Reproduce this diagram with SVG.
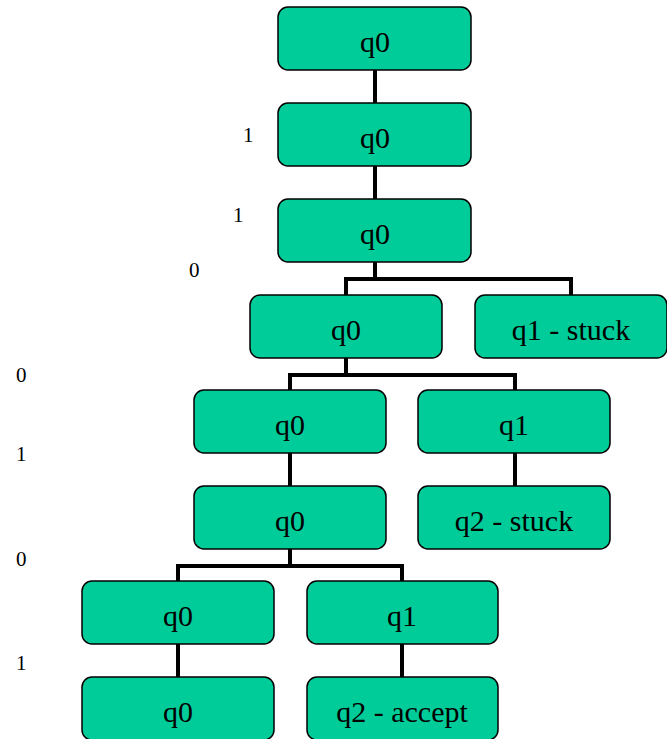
<svg xmlns="http://www.w3.org/2000/svg" width="667" height="739" viewBox="0 0 667 739">
  <style>
    .node rect { fill: #00CC99; stroke: #000; stroke-width: 1.5; }
    .node text { font-size: 30px; fill: #000; text-anchor: middle; }
    .edge { fill: none; stroke: #000; stroke-width: 4; }
    .lbl { font-size: 21px; fill: #000; }
  </style>
  <rect width="667" height="739" fill="#fff"/>

  <!-- connectors -->
  <g id="connectors">
    <path class="edge" d="M375 70 V103"/>
    <path class="edge" d="M375 166 V199"/>
    <path class="edge" d="M375 262 V279 M346 295 V279 H571 V295"/>
    <path class="edge" d="M346 358 V375 M290 390 V375 H515 V390"/>
    <path class="edge" d="M290 453 V486"/>
    <path class="edge" d="M515 453 V486"/>
    <path class="edge" d="M290 549 V566 M178 581 V566 H402 V581"/>
    <path class="edge" d="M178 644 V677"/>
    <path class="edge" d="M402 644 V677"/>
  </g>

  <g font-family="Liberation Serif, Times New Roman, serif">
  <!-- input symbols -->
  <g id="labels">
    <text class="lbl" x="243" y="142">1</text>
    <text class="lbl" x="233" y="222">1</text>
    <text class="lbl" x="189" y="277">0</text>
    <text class="lbl" x="16" y="382">0</text>
    <text class="lbl" x="16" y="461">1</text>
    <text class="lbl" x="16" y="566">0</text>
    <text class="lbl" x="16" y="670">1</text>
  </g>

  <!-- states -->
  <g id="n1" class="node"><rect x="278" y="7" width="193" height="63" rx="10"/><text x="375" y="52">q0</text></g>
  <g id="n2" class="node"><rect x="278" y="103" width="193" height="63" rx="10"/><text x="375" y="148">q0</text></g>
  <g id="n3" class="node"><rect x="278" y="199" width="193" height="63" rx="10"/><text x="375" y="244">q0</text></g>
  <g id="n4" class="node"><rect x="250" y="295" width="192" height="63" rx="10"/><text x="346" y="340">q0</text></g>
  <g id="n5" class="node"><rect x="475" y="295" width="192" height="63" rx="10"/><text x="571" y="340">q1 - stuck</text></g>
  <g id="n6" class="node"><rect x="194" y="390" width="192" height="63" rx="10"/><text x="290" y="435">q0</text></g>
  <g id="n7" class="node"><rect x="418" y="390" width="192" height="63" rx="10"/><text x="514" y="435">q1</text></g>
  <g id="n8" class="node"><rect x="194" y="486" width="192" height="63" rx="10"/><text x="290" y="531">q0</text></g>
  <g id="n9" class="node"><rect x="418" y="486" width="192" height="63" rx="10"/><text x="514" y="531">q2 - stuck</text></g>
  <g id="n10" class="node"><rect x="82" y="581" width="192" height="63" rx="10"/><text x="178" y="626">q0</text></g>
  <g id="n11" class="node"><rect x="307" y="581" width="191" height="63" rx="10"/><text x="402" y="626">q1</text></g>
  <g id="n12" class="node"><rect x="82" y="677" width="192" height="63" rx="10"/><text x="178" y="722">q0</text></g>
  <g id="n13" class="node"><rect x="307" y="677" width="191" height="63" rx="10"/><text x="402" y="722">q2 - accept</text></g>
  </g>
</svg>
